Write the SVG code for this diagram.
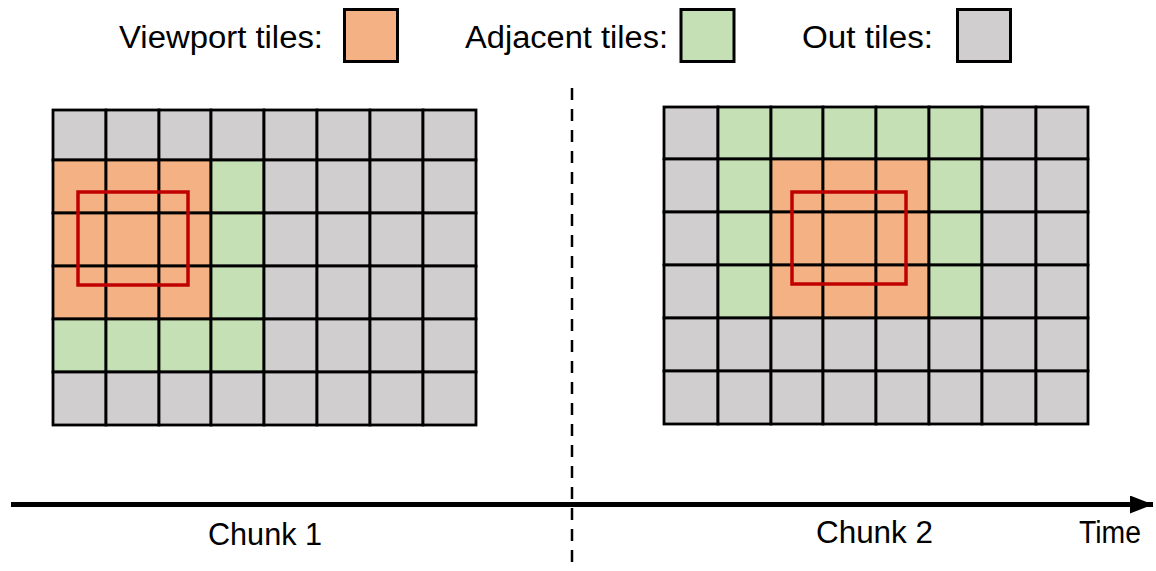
<svg xmlns="http://www.w3.org/2000/svg" width="1156" height="571" viewBox="0 0 1156 571">
  <style>
    .t { stroke: #000; stroke-width: 2.8; }
    .o { fill: #F4B183; }
    .g { fill: #C5E0B4; }
    .x { fill: #D0CECE; }
    .vp { fill: none; stroke: #C00000; stroke-width: 3.5; }
    .lbl { font-family: "Liberation Sans", Arial, sans-serif; font-size: 31px; fill: #000; }
    .key { stroke: #000; stroke-width: 3; }
  </style>
  <defs>
    <marker id="arrow" markerUnits="userSpaceOnUse" markerWidth="24" markerHeight="18" refX="23" refY="9" orient="auto">
      <path d="M0,0 L23,9 L0,18 Z" fill="#000"/>
    </marker>
  </defs>
  <rect width="1156" height="571" fill="#fff"/>

  <!-- legend -->
  <g id="legend-viewport">
    <text class="lbl" x="119" y="48" textLength="204" lengthAdjust="spacingAndGlyphs">Viewport tiles:</text>
    <rect class="key o" x="344.5" y="9.5" width="53" height="52"/>
  </g>
  <g id="legend-adjacent">
    <text class="lbl" x="465" y="48" textLength="203" lengthAdjust="spacingAndGlyphs">Adjacent tiles:</text>
    <rect class="key g" x="681" y="9.5" width="53" height="52"/>
  </g>
  <g id="legend-out">
    <text class="lbl" x="802" y="48" textLength="131" lengthAdjust="spacingAndGlyphs">Out tiles:</text>
    <rect class="key x" x="957.5" y="9.5" width="53" height="52"/>
  </g>

  <!-- chunk 1 tile grid -->
  <g id="grid-chunk1">
    <!-- row 0 -->
    <rect class="t x" x="53" y="110" width="53" height="50"/>
    <rect class="t x" x="106" y="110" width="53" height="50"/>
    <rect class="t x" x="159" y="110" width="52" height="50"/>
    <rect class="t x" x="211" y="110" width="53" height="50"/>
    <rect class="t x" x="264" y="110" width="53" height="50"/>
    <rect class="t x" x="317" y="110" width="53" height="50"/>
    <rect class="t x" x="370" y="110" width="53" height="50"/>
    <rect class="t x" x="423" y="110" width="53" height="50"/>
    <!-- row 1 -->
    <rect class="t o" x="53" y="160" width="53" height="53"/>
    <rect class="t o" x="106" y="160" width="53" height="53"/>
    <rect class="t o" x="159" y="160" width="52" height="53"/>
    <rect class="t g" x="211" y="160" width="53" height="53"/>
    <rect class="t x" x="264" y="160" width="53" height="53"/>
    <rect class="t x" x="317" y="160" width="53" height="53"/>
    <rect class="t x" x="370" y="160" width="53" height="53"/>
    <rect class="t x" x="423" y="160" width="53" height="53"/>
    <!-- row 2 -->
    <rect class="t o" x="53" y="213" width="53" height="53"/>
    <rect class="t o" x="106" y="213" width="53" height="53"/>
    <rect class="t o" x="159" y="213" width="52" height="53"/>
    <rect class="t g" x="211" y="213" width="53" height="53"/>
    <rect class="t x" x="264" y="213" width="53" height="53"/>
    <rect class="t x" x="317" y="213" width="53" height="53"/>
    <rect class="t x" x="370" y="213" width="53" height="53"/>
    <rect class="t x" x="423" y="213" width="53" height="53"/>
    <!-- row 3 -->
    <rect class="t o" x="53" y="266" width="53" height="53"/>
    <rect class="t o" x="106" y="266" width="53" height="53"/>
    <rect class="t o" x="159" y="266" width="52" height="53"/>
    <rect class="t g" x="211" y="266" width="53" height="53"/>
    <rect class="t x" x="264" y="266" width="53" height="53"/>
    <rect class="t x" x="317" y="266" width="53" height="53"/>
    <rect class="t x" x="370" y="266" width="53" height="53"/>
    <rect class="t x" x="423" y="266" width="53" height="53"/>
    <!-- row 4 -->
    <rect class="t g" x="53" y="319" width="53" height="53"/>
    <rect class="t g" x="106" y="319" width="53" height="53"/>
    <rect class="t g" x="159" y="319" width="52" height="53"/>
    <rect class="t g" x="211" y="319" width="53" height="53"/>
    <rect class="t x" x="264" y="319" width="53" height="53"/>
    <rect class="t x" x="317" y="319" width="53" height="53"/>
    <rect class="t x" x="370" y="319" width="53" height="53"/>
    <rect class="t x" x="423" y="319" width="53" height="53"/>
    <!-- row 5 -->
    <rect class="t x" x="53" y="372" width="53" height="53"/>
    <rect class="t x" x="106" y="372" width="53" height="53"/>
    <rect class="t x" x="159" y="372" width="52" height="53"/>
    <rect class="t x" x="211" y="372" width="53" height="53"/>
    <rect class="t x" x="264" y="372" width="53" height="53"/>
    <rect class="t x" x="317" y="372" width="53" height="53"/>
    <rect class="t x" x="370" y="372" width="53" height="53"/>
    <rect class="t x" x="423" y="372" width="53" height="53"/>
    <!-- viewport -->
    <rect class="vp" x="78" y="192" width="110" height="93"/>
  </g>

  <!-- chunk 2 tile grid -->
  <g id="grid-chunk2">
    <!-- row 0 -->
    <rect class="t x" x="664" y="107" width="54" height="52"/>
    <rect class="t g" x="718" y="107" width="53" height="52"/>
    <rect class="t g" x="771" y="107" width="52" height="52"/>
    <rect class="t g" x="823" y="107" width="53" height="52"/>
    <rect class="t g" x="876" y="107" width="53" height="52"/>
    <rect class="t g" x="929" y="107" width="53" height="52"/>
    <rect class="t x" x="982" y="107" width="54" height="52"/>
    <rect class="t x" x="1036" y="107" width="52" height="52"/>
    <!-- row 1 -->
    <rect class="t x" x="664" y="159" width="54" height="53"/>
    <rect class="t g" x="718" y="159" width="53" height="53"/>
    <rect class="t o" x="771" y="159" width="52" height="53"/>
    <rect class="t o" x="823" y="159" width="53" height="53"/>
    <rect class="t o" x="876" y="159" width="53" height="53"/>
    <rect class="t g" x="929" y="159" width="53" height="53"/>
    <rect class="t x" x="982" y="159" width="54" height="53"/>
    <rect class="t x" x="1036" y="159" width="52" height="53"/>
    <!-- row 2 -->
    <rect class="t x" x="664" y="212" width="54" height="53"/>
    <rect class="t g" x="718" y="212" width="53" height="53"/>
    <rect class="t o" x="771" y="212" width="52" height="53"/>
    <rect class="t o" x="823" y="212" width="53" height="53"/>
    <rect class="t o" x="876" y="212" width="53" height="53"/>
    <rect class="t g" x="929" y="212" width="53" height="53"/>
    <rect class="t x" x="982" y="212" width="54" height="53"/>
    <rect class="t x" x="1036" y="212" width="52" height="53"/>
    <!-- row 3 -->
    <rect class="t x" x="664" y="265" width="54" height="53"/>
    <rect class="t g" x="718" y="265" width="53" height="53"/>
    <rect class="t o" x="771" y="265" width="52" height="53"/>
    <rect class="t o" x="823" y="265" width="53" height="53"/>
    <rect class="t o" x="876" y="265" width="53" height="53"/>
    <rect class="t g" x="929" y="265" width="53" height="53"/>
    <rect class="t x" x="982" y="265" width="54" height="53"/>
    <rect class="t x" x="1036" y="265" width="52" height="53"/>
    <!-- row 4 -->
    <rect class="t x" x="664" y="318" width="54" height="53"/>
    <rect class="t x" x="718" y="318" width="53" height="53"/>
    <rect class="t x" x="771" y="318" width="52" height="53"/>
    <rect class="t x" x="823" y="318" width="53" height="53"/>
    <rect class="t x" x="876" y="318" width="53" height="53"/>
    <rect class="t x" x="929" y="318" width="53" height="53"/>
    <rect class="t x" x="982" y="318" width="54" height="53"/>
    <rect class="t x" x="1036" y="318" width="52" height="53"/>
    <!-- row 5 -->
    <rect class="t x" x="664" y="371" width="54" height="53"/>
    <rect class="t x" x="718" y="371" width="53" height="53"/>
    <rect class="t x" x="771" y="371" width="52" height="53"/>
    <rect class="t x" x="823" y="371" width="53" height="53"/>
    <rect class="t x" x="876" y="371" width="53" height="53"/>
    <rect class="t x" x="929" y="371" width="53" height="53"/>
    <rect class="t x" x="982" y="371" width="54" height="53"/>
    <rect class="t x" x="1036" y="371" width="52" height="53"/>
    <!-- viewport -->
    <rect class="vp" x="792" y="192" width="114" height="92"/>
  </g>

  <!-- time axis and chunk boundary -->
  <g id="connectors">
    <line x1="572" y1="88" x2="572" y2="571" stroke="#000" stroke-width="2.5" stroke-dasharray="12 9"/>
    <line x1="11" y1="504.5" x2="1153" y2="504.5" stroke="#000" stroke-width="5" marker-end="url(#arrow)"/>
  </g>

  <g id="axis-labels">
    <text class="lbl" x="208" y="545" textLength="114" lengthAdjust="spacingAndGlyphs">Chunk 1</text>
    <text class="lbl" x="816" y="543" textLength="117" lengthAdjust="spacingAndGlyphs">Chunk 2</text>
    <text class="lbl" x="1079" y="543" textLength="62" lengthAdjust="spacingAndGlyphs">Time</text>
  </g>
</svg>
